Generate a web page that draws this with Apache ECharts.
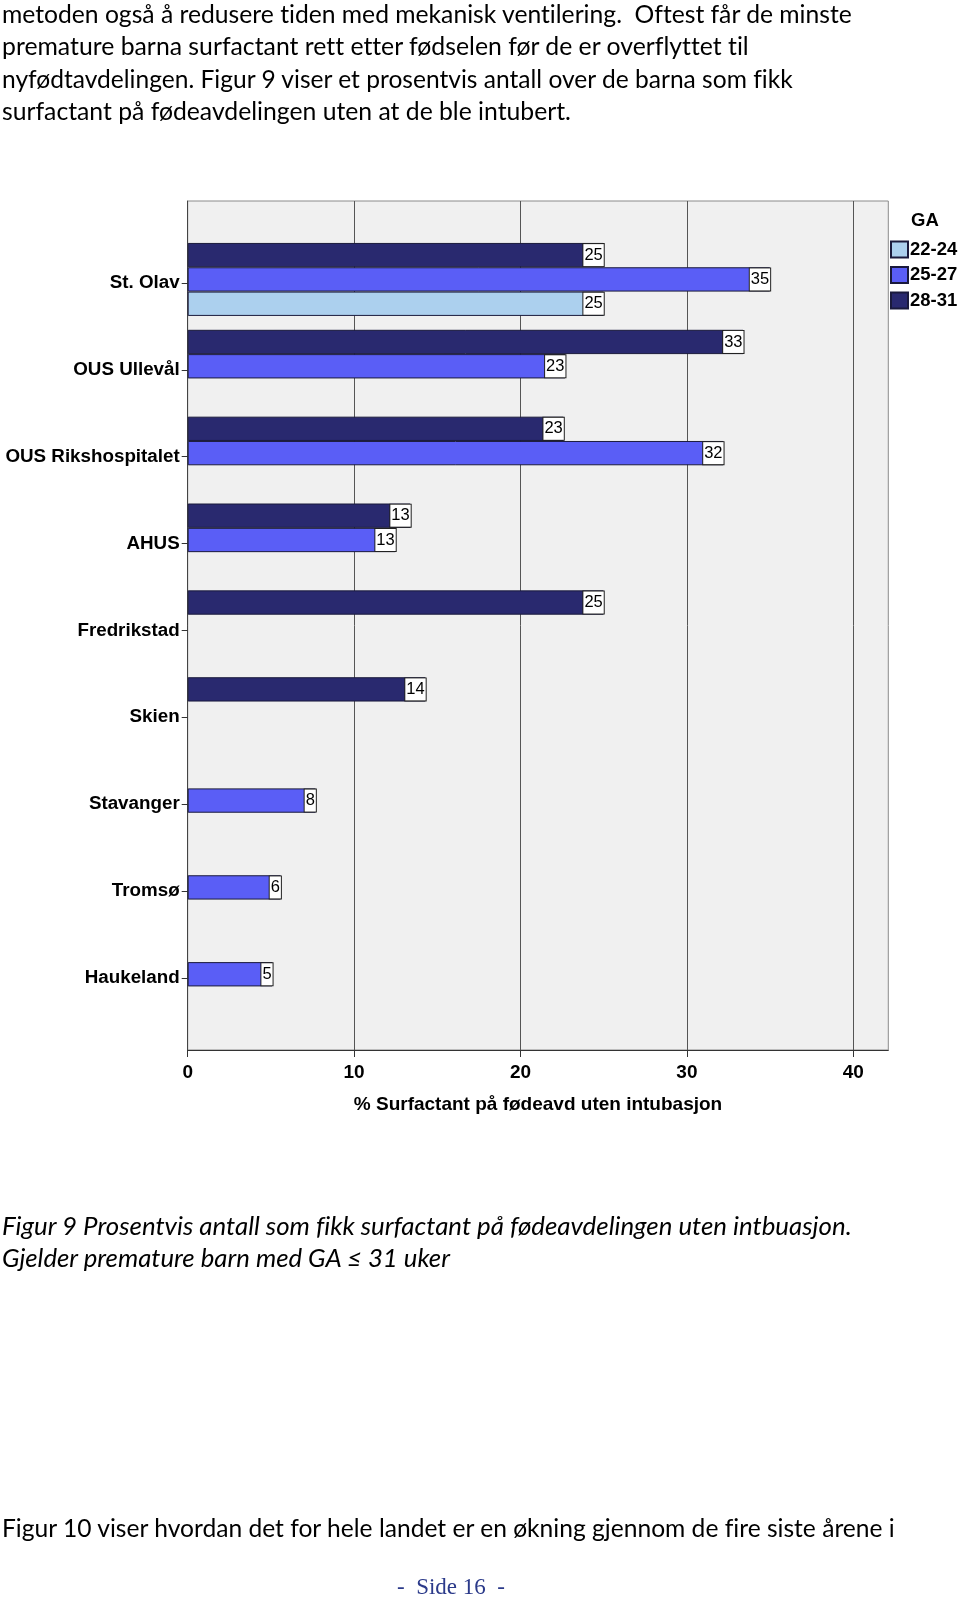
<!DOCTYPE html>
<html>
<head>
<meta charset="utf-8">
<script src="https://cdn.jsdelivr.net/npm/echarts@6/dist/echarts.min.js"></script>
<style>
  html, body { margin:0; padding:0; background:#fff; }
  #page { position:relative; width:960px; height:1599px; overflow:hidden; }
  #chart { position:absolute; left:0; top:0; width:960px; height:1599px; }
  .ln { position:absolute; left:2px; white-space:pre; line-height:32px; height:32px; color:#000; font-family:Lato, "Open Sans", sans-serif; font-variant-ligatures:none; font-feature-settings:"liga" 0, "clig" 0; }
  .it { font-style:italic; }
  .side { position:absolute; white-space:pre; font-family:"Liberation Serif", "DejaVu Serif", serif; color:#2b3a8a; line-height:30px; }
</style>
</head>
<body>
<div id="page">
  <div id="chart"></div>
</div>
<script>
// ---- data ----
const categories = ['St. Olav', 'OUS Ullevål', 'OUS Rikshospitalet', 'AHUS', 'Fredrikstad', 'Skien', 'Stavanger', 'Tromsø', 'Haukeland'];
const seriesNames = ['22-24', '25-27', '28-31'];
const ga2224 = [25, null, null, null, null, null, null, null, null];
const ga2527 = [35, 22.7, 32.2, 12.5, null, null, 7.7, 5.6, 5.1];
const ga2831 = [25, 33.4, 22.6, 13.4, 25, 14.3, null, null, null];
const xTicks = [0, 10, 20, 30, 40];
const xMax = 42.1;

// ---- page text ----
const textLines = [
  {t:'metoden også å redusere tiden med mekanisk ventilering.  Oftest får de minste', cy:13.5, right:852, cls:''},
  {t:'premature barna surfactant rett etter fødselen før de er overflyttet til', cy:46, right:749, cls:''},
  {t:'nyfødtavdelingen. Figur 9 viser et prosentvis antall over de barna som fikk', cy:78.5, right:793, cls:''},
  {t:'surfactant på fødeavdelingen uten at de ble intubert.', cy:110.5, right:571, cls:''},
  {t:'Figur 9 Prosentvis antall som fikk surfactant på fødeavdelingen uten intbuasjon.', cy:1225, right:852, cls:'it'},
  {t:'Gjelder premature barn med GA ≤ 31 uker', cy:1257, right:450, cls:'it'},
  {t:'Figur 10 viser hvordan det for hele landet er en økning gjennom de fire siste årene i', cy:1528, right:895, cls:''}
];
const page = document.getElementById('page');
textLines.forEach(L => {
  const d = document.createElement('div');
  d.className = 'ln ' + L.cls;
  d.textContent = L.t;
  d.style.fontSize = '100px';
  d.style.visibility = 'hidden';
  page.appendChild(d);
  const w = d.getBoundingClientRect().width;
  const fs = 100 * (L.right - 2) / w;
  d.style.fontSize = fs.toFixed(2) + 'px';
  d.style.top = (L.cy - 16) + 'px';
  d.style.visibility = 'visible';
});
const side = document.createElement('div');
side.className = 'side';
side.textContent = '-  Side 16  -';
side.style.fontSize = '23px';
side.style.left = '397px';
side.style.top = (1587 - 15) + 'px';
page.appendChild(side);

// ---- chart ----
const FONT = '"Liberation Sans", Arial, sans-serif';
const colors = {'22-24':'#acd0ee', '25-27':'#5a5ef6', '28-31':'#29296f'};
const dataMap = {'22-24':ga2224, '25-27':ga2527, '28-31':ga2831};

const gridLeft = 187.7, gridTop = 201, gridW = 700.6, gridH = 849;
const barTop = 236, barH = 781.7;

function barSeries(name) {
  return {
    name: name,
    type: 'bar',
    xAxisIndex: 1,
    yAxisIndex: 1,
    data: dataMap[name],
    barGap: '0%',
    barCategoryGap: '16%',
    itemStyle: { color: colors[name], borderColor: '#1a1a3c', borderWidth: 1 },
    label: {
      show: true,
      position: 'insideRight',
      distance: 0,
      formatter: p => (p.value == null ? '' : String(Math.round(p.value))),
      fontFamily: FONT,
      fontSize: 16.5,
      lineHeight: 19,
      color: '#000',
      backgroundColor: '#fff',
      borderColor: '#222',
      borderWidth: 1,
      padding: [2, 1, 1, 1]
    },
    emphasis: { disabled: true },
    animation: false
  };
}

const chart = echarts.init(document.getElementById('chart'), null, {renderer:'canvas', width:960, height:1599});
chart.setOption({
  animation: false,
  textStyle: { fontFamily: FONT },
  title: {
    text: 'GA', left: 911, top: 211, padding: 0,
    textStyle: { fontFamily: FONT, fontSize: 18.5, fontWeight: 'bold', color: '#000' }
  },
  legend: {
    data: seriesNames,
    orient: 'vertical',
    left: 890,
    top: 240,
    padding: 0,
    itemWidth: 17,
    itemHeight: 16,
    itemGap: 6.5,
    icon: 'rect',
    selectedMode: false,
    textStyle: { fontFamily: FONT, fontSize: 18.5, fontWeight: 'bold', color: '#000', lineHeight: 16, padding: [0, 0, 0, -3] }
  },
  grid: [
    { left: gridLeft, top: gridTop, width: gridW, height: gridH, show: true, backgroundColor: '#f0f0f0', borderColor: '#8a8a8a', borderWidth: 1 },
    { left: gridLeft, top: barTop, width: gridW, height: barH, show: false },
    { left: gridLeft, top: barTop + 3.5, width: gridW, height: barH, show: false }
  ],
  xAxis: [
    {
      gridIndex: 0, type: 'value', min: 0, max: xMax, interval: 10,
      axisLine: { show: true, lineStyle: { color: '#333', width: 1 } },
      axisTick: { show: true, length: 7, lineStyle: { color: '#333' }, customValues: xTicks },
      axisLabel: { show: true, customValues: xTicks, margin: 13, fontFamily: FONT, fontSize: 19, fontWeight: 'bold', color: '#000' },
      splitLine: { show: true, lineStyle: { color: '#555', width: 1 } },
      name: '% Surfactant på fødeavd uten intubasjon',
      nameLocation: 'middle',
      nameGap: 45,
      nameTextStyle: { fontFamily: FONT, fontSize: 19, fontWeight: 'bold', color: '#000' }
    },
    { gridIndex: 1, type: 'value', min: 0, max: xMax, show: false },
    { gridIndex: 2, type: 'value', min: 0, max: xMax, show: false }
  ],
  yAxis: [
    {
      gridIndex: 0, type: 'value', min: 0, max: 1,
      axisLine: { show: true, lineStyle: { color: '#444', width: 1 } },
      axisTick: { show: false }, axisLabel: { show: false }, splitLine: { show: false }
    },
    {
      gridIndex: 1, type: 'category', data: categories, inverse: true,
      axisLine: { show: false }, axisTick: { show: false }, axisLabel: { show: false }, splitLine: { show: false }
    },
    {
      gridIndex: 2, type: 'category', data: categories, inverse: true,
      axisLine: { show: false },
      axisTick: { show: true, alignWithLabel: true, length: 6, lineStyle: { color: '#333' } },
      axisLabel: { margin: 8, fontFamily: FONT, fontSize: 18.8, fontWeight: 'bold', color: '#000' },
      splitLine: { show: false }
    }
  ],
  series: [barSeries('28-31'), barSeries('25-27'), barSeries('22-24')]
});
</script>
</body>
</html>
